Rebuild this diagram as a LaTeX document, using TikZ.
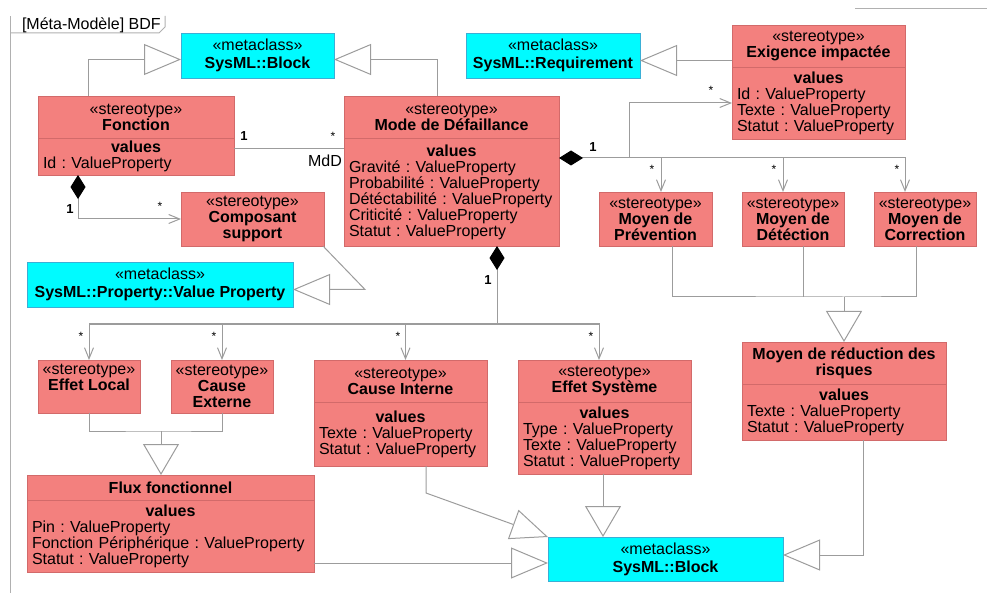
\documentclass[tikz,border=0pt]{standalone}
\usepackage{fontspec}
\setmainfont{Liberation Sans}
\usetikzlibrary{positioning,arrows.meta}

\definecolor{stereo}{HTML}{F3807E}
\definecolor{stereodraw}{HTML}{D26A6A}
\definecolor{meta}{HTML}{00FBFF}
\definecolor{metadraw}{HTML}{3AAFD6}
\definecolor{link}{HTML}{9C9C9C}

\frenchspacing
\hyphenpenalty=10000
\exhyphenpenalty=10000
\newcommand{\valtitle}{\hbox to\hsize{\hfil\bfseries values\hfil}}

\begin{document}
\begin{tikzpicture}[x=1pt,y=-1pt,font=\fontsize{16}{16}\selectfont,
    every node/.style={inner sep=0pt,outer sep=0pt},
    head/.style={draw=stereodraw,fill=stereo,align=center,anchor=north west},
    vals/.style={draw=stereodraw,fill=stereo,align=left,inner xsep=5pt,below=0pt of #1},
    metabox/.style={draw=metadraw,fill=meta,align=center,anchor=north west,font=\fontsize{16}{18}\selectfont},
    link/.style={draw=link,line width=1pt},
    frame/.style={draw=link!80,line width=1pt},
    gen/.style={link,-{Triangle[fill=white,length=37pt,width=31pt]}},
    genv/.style={link,-{Triangle[fill=white,length=31pt,width=36pt]}},
    nav/.style={link,-{Straight Barb[length=11pt,width=9pt]}},
    owner/.style={link,{Diamond[color=black,fill=black,length=24pt,width=15pt]}-},
    compo/.style={link,{Diamond[color=black,fill=black,length=24pt,width=15pt]}-{Straight Barb[length=11pt,width=9pt]}},
    mult/.style={font=\fontsize{13}{13}\selectfont\bfseries},
    star/.style={font=\fontsize{12}{12}\selectfont}]
  \useasboundingbox (0,0) rectangle (987,593);

  % frame
  \draw[frame] (10,593) -- (10,16);
  \draw[frame] (10,33) -- (159,33) -- (165,27) -- (165,16);
  \draw[frame] (855,9) -- (987,9);
  \node[anchor=west] (title) at (22,25) {[Méta-Modèle] BDF};

  % metaclasses
  \node[metabox,minimum width=153pt,minimum height=45pt] (blockT) at (181,33) {«metaclass»\\\textbf{SysML::Block}};
  \node[metabox,minimum width=174pt,minimum height=45pt] (req) at (466,33) {«metaclass»\\\textbf{SysML::Requirement}};
  \node[metabox,minimum width=266pt,minimum height=45pt] (vprop) at (27,262) {«metaclass»\\\textbf{SysML::Property::Value Property}};
  \node[metabox,minimum width=235pt,minimum height=44pt] (blockB) at (548,537) {«metaclass»\\\textbf{SysML::Block}};

  % stereotypes
  \node[head,minimum width=173pt,minimum height=42pt] (exig-h) at (732,25) {«stereotype»\\\textbf{Exigence impactée}};
  \node[vals=exig-h,text width=163pt,minimum height=72pt] (exig-v) {\valtitle\\Id : ValueProperty\\Texte : ValueProperty\\Statut : ValueProperty};
  \node[head,minimum width=196pt,minimum height=42pt] (fonc-h) at (38,96) {«stereotype»\\\textbf{Fonction}};
  \node[vals=fonc-h,text width=186pt,minimum height=37pt] (fonc-v) {\valtitle\\Id : ValueProperty};
  \node[head,minimum width=215pt,minimum height=42pt] (mdd-h) at (344,96) {«stereotype»\\\textbf{Mode de Défaillance}};
  \node[vals=mdd-h,text width=205pt,minimum height=108pt] (mdd-v) {\valtitle\\Gravité : ValueProperty\\Probabilité : ValueProperty\\Détéctabilité : ValueProperty\\Criticité : ValueProperty\\Statut : ValueProperty};
  \node[head,minimum width=143pt,minimum height=54pt] (comp) at (181,192) {«stereotype»\\\textbf{Composant}\\\textbf{support}};
  \node[head,minimum width=113pt,minimum height=54pt] (prev) at (599,192) {«stereotype»\\\textbf{Moyen de}\\\textbf{Prévention}};
  \node[head,minimum width=102pt,minimum height=54pt] (det) at (742,192) {«stereotype»\\\textbf{Moyen de}\\\textbf{Détéction}};
  \node[head,minimum width=102pt,minimum height=54pt] (corr) at (874,192) {«stereotype»\\\textbf{Moyen de}\\\textbf{Correction}};
  \node[head,minimum width=204pt,minimum height=42pt] (mdr-h) at (742,342) {\textbf{Moyen de réduction des}\\\textbf{risques}};
  \node[vals=mdr-h,text width=194pt,minimum height=56pt] (mdr-v) {\valtitle\\Texte : ValueProperty\\Statut : ValueProperty};
  \node[head,minimum width=102pt,minimum height=53pt,text depth=19pt] (eloc) at (38,360) {«stereotype»\\\textbf{Effet Local}};
  \node[head,minimum width=102pt,minimum height=53pt] (cext) at (171,360) {«stereotype»\\\textbf{Cause}\\\textbf{Externe}};
  \node[head,minimum width=173pt,minimum height=42pt] (cint-h) at (314,360) {«stereotype»\\\textbf{Cause Interne}};
  \node[vals=cint-h,text width=163pt,minimum height=64pt] (cint-v) {\valtitle\\Texte : ValueProperty\\Statut : ValueProperty};
  \node[head,minimum width=173pt,minimum height=42pt] (esys-h) at (518,360) {«stereotype»\\\textbf{Effet Système}};
  \node[vals=esys-h,text width=163pt,minimum height=72pt] (esys-v) {\valtitle\\Type : ValueProperty\\Texte : ValueProperty\\Statut : ValueProperty};
  \node[head,minimum width=287pt,minimum height=25pt] (flux-h) at (27,475) {\textbf{Flux fonctionnel}};
  \node[vals=flux-h,text width=277pt,minimum height=72pt] (flux-v) {\valtitle\\Pin : ValueProperty\\Fonction Périphérique : ValueProperty\\Statut : ValueProperty};

  % generalisations (top)
  \draw[gen] ([xshift=-48pt]fonc-h.north) |- ([yshift=-4pt]blockT.west);
  \draw[gen] ([xshift=-14.5pt]mdd-h.north) |- ([yshift=-4pt]blockT.east);
  \coordinate (reqin) at ([yshift=-5pt]req.east);
  \draw[gen] (exig-h.west |- reqin) -- (reqin);
  \draw[gen] ([xshift=-1pt]comp.south east) -- ([xshift=72pt,yshift=-5pt]vprop.east) -- ([yshift=-5pt]vprop.east);

  % Fonction -- Mode de Defaillance
  \coordinate (fm) at ([yshift=7.5pt]fonc-v.east);
  \coordinate (mf) at (fm -| mdd-v.west);
  \draw[link] (fm) -- (mf);
  \node[mult] (fm-1) at ([xshift=10pt,yshift=13pt]fm) {1};
  \node[star] (fm-2) at ([xshift=-11pt,yshift=13pt]mf) {*};
  \node (fm-3) at ([xshift=-19pt,yshift=-12pt]mf) {MdD};

  % Fonction <>-- Composant support
  \coordinate (fc) at ([xshift=-58pt]fonc-v.south);
  \draw[compo] (fc) |- (comp);
  \node[mult] (fc-1) at ([xshift=-8pt,yshift=-34pt]fc) {1};
  \node[star] (fc-2) at ([xshift=-21pt,yshift=13pt]comp.west) {*};

  % Mode de Defaillance <>-- exigence, moyens
  \coordinate (mj) at ([yshift=34pt]mdd-v.east);
  \draw[compo] (mj) -| ([xshift=-20pt]corr.north);
  \draw[nav] ([xshift=5.5pt]prev.north |- mj) -- ([xshift=5.5pt]prev.north);
  \draw[nav] ([xshift=-10pt]det.north |- mj) -- ([xshift=-10pt]det.north);
  \draw[nav] ([xshift=-26.5pt]prev.north |- mj) |- (exig-v.west);
  \node[mult] (mj-1) at ([xshift=34pt,yshift=11pt]mj) {1};
  \node[star] (mj-2) at ([xshift=-21pt,yshift=13pt]exig-v.west) {*};
  \node[star] (mj-3) at ([xshift=-3.5pt,yshift=23pt]prev.north) {*};
  \node[star] (mj-4) at ([xshift=-19pt,yshift=23pt]det.north) {*};
  \node[star] (mj-5) at ([xshift=-28pt,yshift=23pt]corr.north) {*};

  % moyens -> moyen de reduction des risques
  \coordinate (rj) at ([yshift=45pt]mdr-h.north);
  \draw[link] ([xshift=16.5pt]prev.south) |- (rj) -| ([xshift=-9pt]corr.south);
  \draw[link] ([xshift=10pt]det.south) -- ([xshift=10pt]det.south |- rj);
  \draw[genv] (rj) -- (mdr-h.north);

  % Mode de Defaillance <>-- effets, causes
  \coordinate (md) at ([xshift=45.5pt]mdd-v.south);
  \coordinate (ej) at ([yshift=-78pt]md);
  \draw[owner] (md) -- (ej);
  \draw[nav] (ej) -| (eloc.north);
  \draw[nav] (ej) -| (cext.north);
  \draw[nav] (ej) -| ([xshift=5pt]cint-h.north);
  \draw[nav] (ej) -| ([xshift=-5.5pt]esys-h.north);
  \node[mult] (md-1) at ([xshift=-9pt,yshift=-34pt]md) {1};
  \node[star] (md-2) at ([xshift=-8pt,yshift=24pt]eloc.north) {*};
  \node[star] (md-3) at ([xshift=-8pt,yshift=24pt]cext.north) {*};
  \node[star] (md-4) at ([xshift=-2.5pt,yshift=24pt]cint-h.north) {*};
  \node[star] (md-5) at ([xshift=-13.5pt,yshift=24pt]esys-h.north) {*};

  % effet local, cause externe -> flux fonctionnel
  \coordinate (fj) at ([xshift=-9.5pt,yshift=44pt]flux-h.north);
  \draw[link] (eloc.south) |- (fj) -| (cext.south);
  \draw[genv] (fj) -- (fj |- flux-h.north);

  % generalisations (bottom)
  \draw[gen] ([xshift=25.5pt]cint-v.south) -- ++(0,27) -- (blockB.north west);
  \draw[genv] ([xshift=-1.5pt]esys-v.south) -- ([xshift=-1.5pt]esys-v.south |- blockB.north);
  \coordinate (bw) at ([yshift=-4pt]blockB.west);
  \draw[gen] (flux-v.east |- bw) -- (bw);
  \draw[gen] ([xshift=19pt]mdr-v.south) |- ([yshift=4pt]blockB.east);
\end{tikzpicture}
\end{document}
